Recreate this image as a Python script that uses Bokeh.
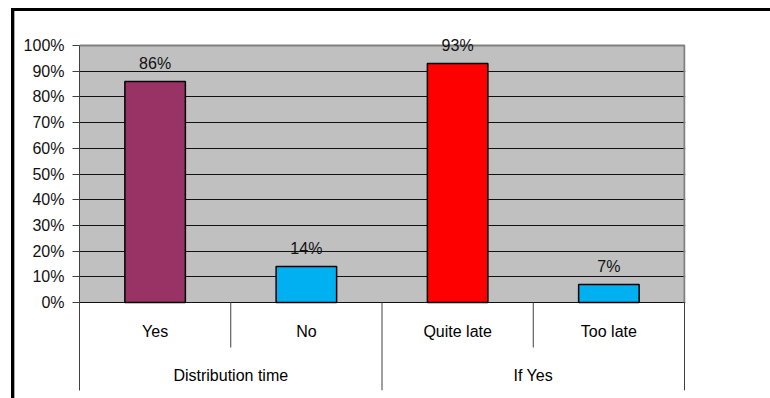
from bokeh.plotting import figure
from bokeh.models import Range1d, FixedTicker, NumeralTickFormatter
from bokeh.embed import file_html
from bokeh.resources import INLINE
from bokeh.core.properties import value

# ---- data ----
groups = ["Distribution time", "If Yes"]
categories = ["Yes", "No", "Quite late", "Too late"]
category_group = ["Distribution time", "Distribution time", "If Yes", "If Yes"]
shares = [0.86, 0.14, 0.93, 0.07]
bar_colors = ["#993366", "#00B0F0", "#FF0000", "#00B0F0"]
y_ticks = [0.0, 0.1, 0.2, 0.3, 0.4, 0.5, 0.6, 0.7, 0.8, 0.9, 1.0]
value_labels = [f"{round(v * 100)}%" for v in shares]

# ---- geometry (pixels) ----
W, H = 770, 398
F_LEFT, F_RIGHT, F_TOP, F_BOTTOM = 79, 685, 28, 390
ZERO_PX, UNIT_PX = 302, 257
CAT_PX = 151.25
LABEL_GAP_PX = 18

n = len(categories)
x_end = (F_RIGHT - F_LEFT) / CAT_PX
y_start = -(F_BOTTOM - ZERO_PX) / UNIT_PX
y_end = 1 + (ZERO_PX - UNIT_PX - F_TOP) / UNIT_PX

def px_to_y(py):
    return (ZERO_PX - py) / UNIT_PX

FONT = value("Liberation Sans")

p = figure(width=W, height=H, output_backend="svg", toolbar_location=None,
           x_range=Range1d(0, x_end), y_range=Range1d(y_start, y_end),
           x_axis_type=None, min_border_left=F_LEFT, min_border_right=W - F_RIGHT,
           min_border_top=F_TOP, min_border_bottom=H - F_BOTTOM)
p.outline_line_color = None
p.background_fill_color = "white"
p.border_fill_alpha = 0
p.styles = {
    "background": "linear-gradient(#000,#000) 11px 8px / 3px 100% no-repeat, "
                  "linear-gradient(#000,#000) 11px 8px / 100% 3px no-repeat, "
                  "linear-gradient(#aaa,#aaa) 14px 11px / 1px 100% no-repeat, "
                  "#ffffff"
}

# plot area background
p.quad(left=[0], right=[n], bottom=[0], top=[1], fill_color="#C0C0C0",
       line_alpha=0, level="image")

# y axis
p.yaxis.ticker = FixedTicker(ticks=y_ticks)
p.yaxis.formatter = NumeralTickFormatter(format="0%")
p.yaxis.bounds = (y_start, 1.0)
p.yaxis.minor_tick_line_color = None
p.yaxis.major_tick_in = 0
p.yaxis.major_tick_out = 7
p.yaxis.major_label_standoff = 8
p.yaxis.axis_line_color = "#404040"
p.yaxis.major_tick_line_color = "#404040"
p.yaxis.major_label_text_font = "Liberation Sans"
p.yaxis.major_label_text_font_size = "16px"
p.yaxis.major_label_text_color = "#111111"

p.ygrid.ticker = FixedTicker(ticks=y_ticks[:-1])
p.ygrid.grid_line_color = "#111111"
p.ygrid.grid_line_width = 1

# plot area border (top and right)
p.line(x=[0, n, n], y=[1, 1, 0], line_color="#808080", line_width=2)

xs = [i + 0.5 for i in range(n)]

# bars
p.vbar(x=xs, top=shares, bottom=0, width=0.4, fill_color=bar_colors,
       line_color="#000000", line_width=1.5)

# value labels
label_y = [v + LABEL_GAP_PX / UNIT_PX for v in shares]
p.text(x=xs, y=label_y, text=value_labels, text_align="center",
       text_baseline="alphabetic", text_font=FONT,
       text_font_size="16px", text_color="#111111")

# category labels
p.text(x=xs, y=[px_to_y(331)] * n, text=categories, text_align="center",
       text_baseline="alphabetic", text_font=FONT, text_font_size="16px",
       text_color="#000000")

# group labels
group_x = []
for g in groups:
    idx = [i for i, cg in enumerate(category_group) if cg == g]
    group_x.append(sum(xs[i] for i in idx) / len(idx))
p.text(x=group_x, y=[px_to_y(375)] * len(groups), text=groups, text_align="center",
       text_baseline="alphabetic", text_font=FONT, text_font_size="16px",
       text_color="#000000")

# separators
short_x, long_x = [], []
for i in range(1, n + 1):
    if i < n and category_group[i] == category_group[i - 1]:
        short_x.append(i)
    else:
        long_x.append(i)
p.segment(x0=short_x, x1=short_x, y0=[0] * len(short_x),
          y1=[px_to_y(347)] * len(short_x), line_color="#404040", line_width=1)
p.segment(x0=long_x, x1=long_x, y0=[0] * len(long_x),
          y1=[y_start] * len(long_x), line_color="#404040", line_width=1)

open("out.html", "w").write(file_html(p, INLINE))
